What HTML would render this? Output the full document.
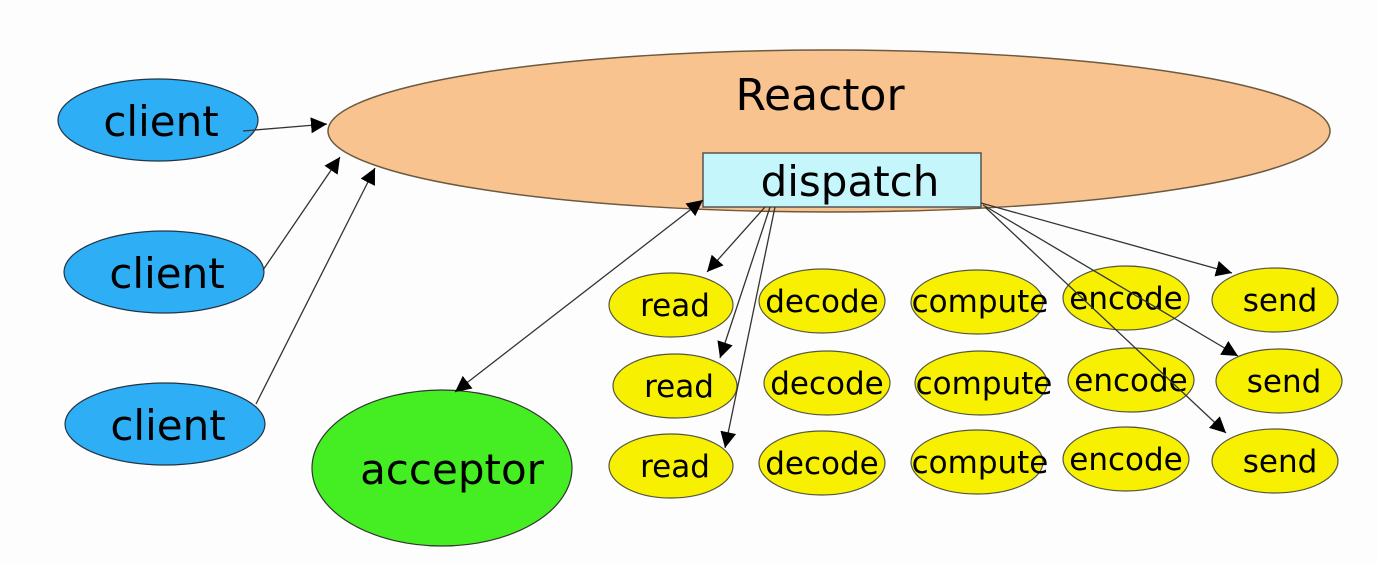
<!DOCTYPE html>
<html><head><meta charset="utf-8"><style>
html,body{margin:0;padding:0;background:#fdfdfd;}
svg{display:block;}
text{font-family:"DejaVu Sans","Liberation Sans",sans-serif;fill:#000;}
</style></head><body>
<svg width="1378" height="563" viewBox="0 0 1378 563" xmlns="http://www.w3.org/2000/svg">
<defs>
<marker id="a" viewBox="0 0 10 10" refX="10" refY="5" markerWidth="16" markerHeight="16" markerUnits="userSpaceOnUse" orient="auto-start-reverse">
<path d="M0,0 L10,5 L0,10 z" fill="#000"/></marker>
</defs>
<rect width="1378" height="563" fill="#fdfdfd"/>
<ellipse cx="829" cy="131" rx="501" ry="81" fill="#f9c38f" stroke="#6b5a40" stroke-width="1.5"/>
<text x="820" y="110" font-size="44" text-anchor="middle">Reactor</text>
<rect x="703" y="153" width="278" height="54" fill="#c4f6fb" stroke="#555" stroke-width="1.5"/>
<text x="850" y="196" font-size="42" text-anchor="middle">dispatch</text>

<g fill="#2eaef5" stroke="#234" stroke-width="1.2">
<ellipse cx="158" cy="120" rx="100" ry="41"/>
<ellipse cx="164" cy="272" rx="100" ry="41"/>
<ellipse cx="165" cy="424" rx="100" ry="41"/>
</g>
<g font-size="42" text-anchor="middle">
<text x="161" y="136">client</text>
<text x="167" y="288">client</text>
<text x="168" y="440">client</text>
</g>

<ellipse cx="442" cy="468" rx="130" ry="78" fill="#44ee22" stroke="#333" stroke-width="1.2"/>
<text x="452" y="484" font-size="42" text-anchor="middle">acceptor</text>

<g fill="#f7f000" stroke="#554" stroke-width="1.2">
<ellipse cx="671" cy="305" rx="62" ry="32"/><ellipse cx="822" cy="301" rx="63" ry="32"/><ellipse cx="977" cy="302" rx="66" ry="32"/><ellipse cx="1126" cy="298" rx="63" ry="32"/><ellipse cx="1275" cy="300" rx="63" ry="32"/>
<ellipse cx="675" cy="386" rx="62" ry="32"/><ellipse cx="827" cy="383" rx="63" ry="32"/><ellipse cx="981" cy="383" rx="66" ry="32"/><ellipse cx="1131" cy="380" rx="63" ry="32"/><ellipse cx="1279" cy="381" rx="63" ry="32"/>
<ellipse cx="671" cy="466" rx="62" ry="32"/><ellipse cx="822" cy="463" rx="63" ry="32"/><ellipse cx="977" cy="462" rx="66" ry="32"/><ellipse cx="1126" cy="459" rx="63" ry="32"/><ellipse cx="1275" cy="461" rx="63" ry="32"/>
</g>
<g font-size="31" text-anchor="middle">
<text x="675" y="316">read</text><text x="822" y="312">decode</text><text x="980" y="312">compute</text><text x="1126" y="309">encode</text><text x="1280" y="311">send</text>
<text x="679" y="397">read</text><text x="827" y="394">decode</text><text x="984" y="394">compute</text><text x="1131" y="391">encode</text><text x="1284" y="392">send</text>
<text x="675" y="477">read</text><text x="822" y="474">decode</text><text x="980" y="473">compute</text><text x="1126" y="470">encode</text><text x="1280" y="472">send</text>
</g>

<g stroke="#333" stroke-width="1.3" fill="none">
<line x1="243" y1="131" x2="327" y2="124" marker-end="url(#a)"/>
<line x1="263" y1="270" x2="340" y2="157" marker-end="url(#a)"/>
<line x1="256" y1="404" x2="375" y2="168" marker-end="url(#a)"/>
<line x1="455" y1="392" x2="703" y2="200" marker-end="url(#a)" marker-start="url(#a)"/>
<line x1="765" y1="207" x2="707" y2="272" marker-end="url(#a)"/>
<line x1="770" y1="207" x2="720" y2="358" marker-end="url(#a)"/>
<line x1="775" y1="207" x2="725" y2="448" marker-end="url(#a)"/>
<line x1="981" y1="203" x2="1232" y2="273" marker-end="url(#a)"/>
<line x1="983" y1="205" x2="1238" y2="356" marker-end="url(#a)"/>
<line x1="985" y1="207" x2="1226" y2="433" marker-end="url(#a)"/>
</g>
</svg>
</body></html>
